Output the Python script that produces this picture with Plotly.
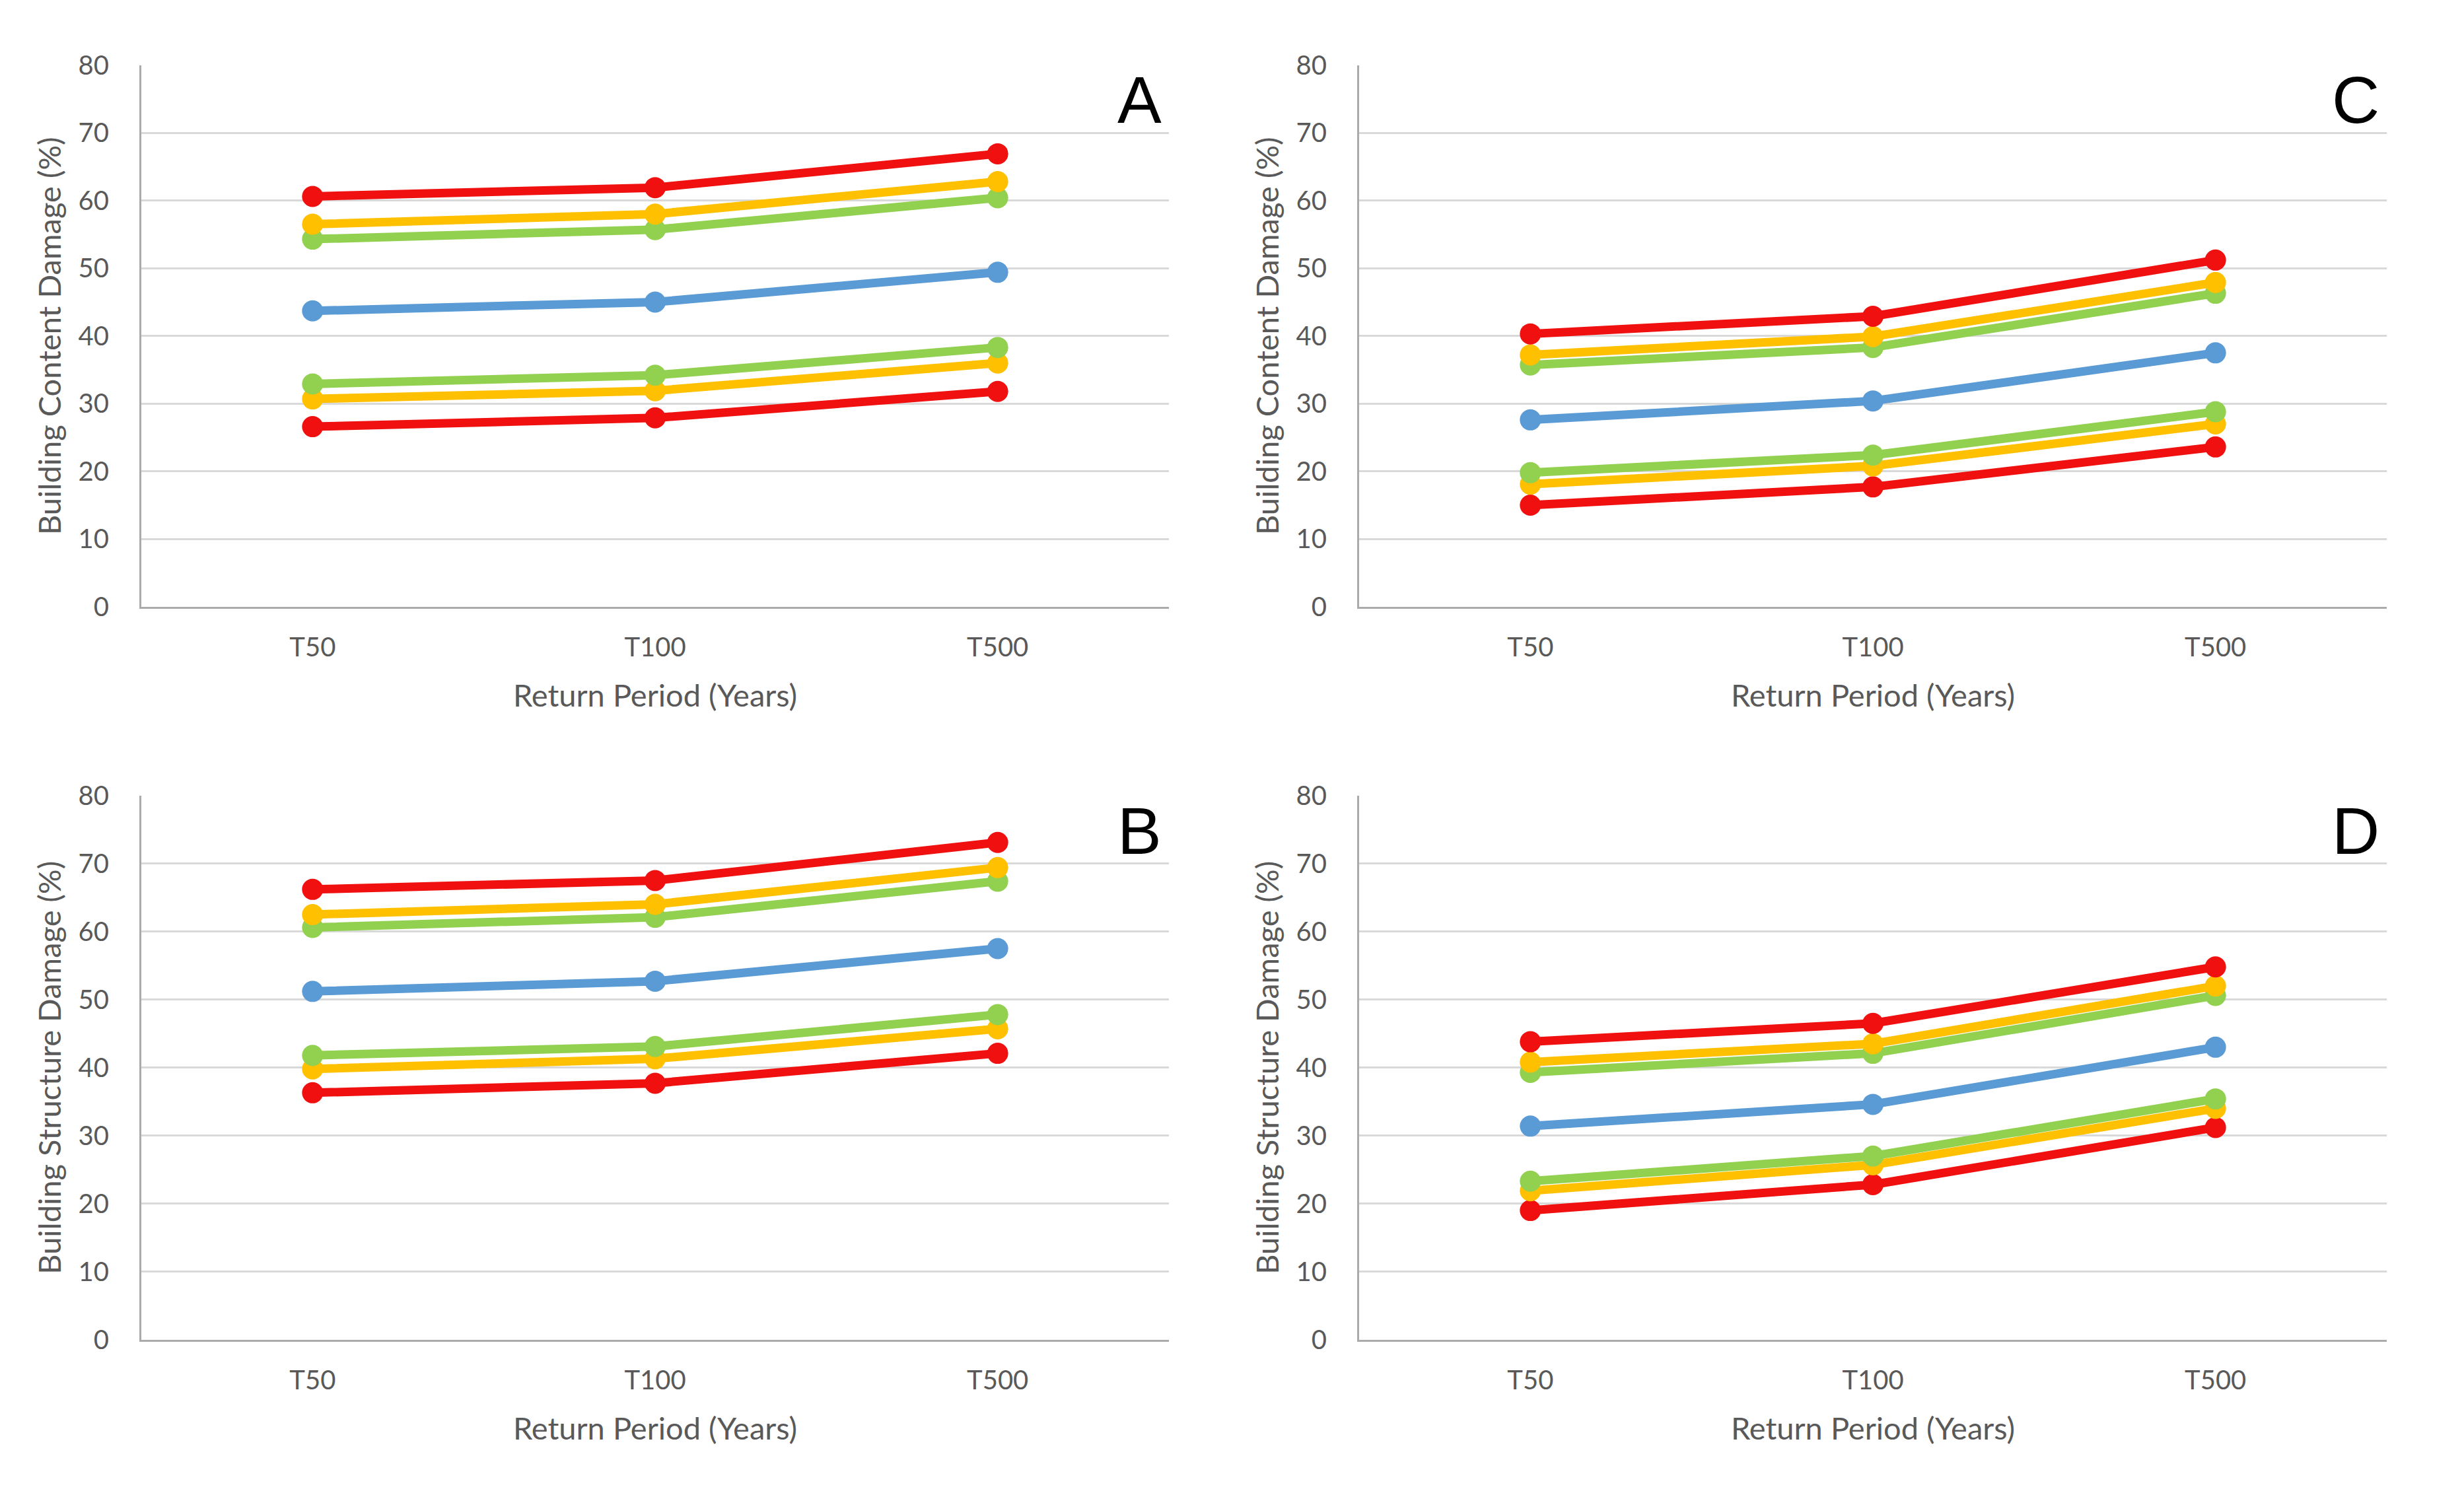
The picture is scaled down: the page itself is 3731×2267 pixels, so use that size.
import plotly.graph_objects as go

W, H = 3731, 2267

periods = ["T50", "T100", "T500"]
y_ticks = [0, 10, 20, 30, 40, 50, 60, 70, 80]

# Panel A - Building Content Damage (%)
A_red_hi = [60.6, 61.9, 66.9]
A_yellow_hi = [56.5, 58.0, 62.8]
A_green_hi = [54.3, 55.7, 60.4]
A_blue = [43.7, 45.0, 49.4]
A_green_lo = [32.9, 34.2, 38.3]
A_yellow_lo = [30.7, 31.9, 36.0]
A_red_lo = [26.6, 27.9, 31.8]

# Panel C - Building Content Damage (%)
C_red_hi = [40.3, 42.9, 51.2]
C_yellow_hi = [37.2, 39.9, 47.9]
C_green_hi = [35.7, 38.3, 46.3]
C_blue = [27.6, 30.4, 37.5]
C_green_lo = [19.8, 22.4, 28.8]
C_yellow_lo = [18.1, 20.8, 27.0]
C_red_lo = [15.0, 17.7, 23.6]

# Panel B - Building Structure Damage (%)
B_red_hi = [66.2, 67.5, 73.1]
B_yellow_hi = [62.5, 64.0, 69.4]
B_green_hi = [60.6, 62.1, 67.4]
B_blue = [51.2, 52.7, 57.5]
B_green_lo = [41.8, 43.1, 47.8]
B_yellow_lo = [39.8, 41.3, 45.7]
B_red_lo = [36.3, 37.7, 42.1]

# Panel D - Building Structure Damage (%)
D_red_hi = [43.8, 46.5, 54.8]
D_yellow_hi = [40.8, 43.5, 52.0]
D_green_hi = [39.3, 42.1, 50.6]
D_blue = [31.4, 34.6, 43.0]
D_green_lo = [23.3, 27.0, 35.4]
D_yellow_lo = [21.9, 25.7, 34.0]
D_red_lo = [19.0, 22.8, 31.2]

RED, YELLOW, GREEN, BLUE = "#F01010", "#FFC000", "#92D050", "#5B9BD5"

panels = [
    ("A", "x", "y", "Building Content Damage (%)",
     [("Lower red", A_red_lo, RED), ("Lower yellow", A_yellow_lo, YELLOW), ("Lower green", A_green_lo, GREEN),
      ("Blue", A_blue, BLUE), ("Upper green", A_green_hi, GREEN), ("Upper yellow", A_yellow_hi, YELLOW),
      ("Upper red", A_red_hi, RED)]),
    ("C", "x2", "y2", "Building Content Damage (%)",
     [("Lower red", C_red_lo, RED), ("Lower yellow", C_yellow_lo, YELLOW), ("Lower green", C_green_lo, GREEN),
      ("Blue", C_blue, BLUE), ("Upper green", C_green_hi, GREEN), ("Upper yellow", C_yellow_hi, YELLOW),
      ("Upper red", C_red_hi, RED)]),
    ("B", "x3", "y3", "Building Structure Damage (%)",
     [("Lower red", B_red_lo, RED), ("Lower yellow", B_yellow_lo, YELLOW), ("Lower green", B_green_lo, GREEN),
      ("Blue", B_blue, BLUE), ("Upper green", B_green_hi, GREEN), ("Upper yellow", B_yellow_hi, YELLOW),
      ("Upper red", B_red_hi, RED)]),
    ("D", "x4", "y4", "Building Structure Damage (%)",
     [("Lower red", D_red_lo, RED), ("Lower yellow", D_yellow_lo, YELLOW), ("Lower green", D_green_lo, GREEN),
      ("Blue", D_blue, BLUE), ("Upper green", D_green_hi, GREEN), ("Upper yellow", D_yellow_hi, YELLOW),
      ("Upper red", D_red_hi, RED)]),
]

fig = go.Figure()
for letter, xa, ya, ytitle, series in panels:
    for name, vals, col in series:
        fig.add_trace(go.Scatter(
            x=periods, y=vals, name=name, mode="lines+markers",
            xaxis=xa, yaxis=ya, showlegend=False,
            line=dict(color=col, width=13),
            marker=dict(color=col, size=32),
        ))

FONT = "Lato, 'Open Sans', sans-serif"
TXT = "#595959"

x_left = [206 / W, 1762 / W]
x_right = [2050 / W, 3606 / W]
y_top = [1 - 905 / H, 1 - 67 / H]
y_bot = [1 - 2039 / H, 1 - 1197 / H]

domains = {
    "A": (x_left, y_top), "C": (x_right, y_top),
    "B": (x_left, y_bot), "D": (x_right, y_bot),
}

layout = dict(
    width=W, height=H,
    margin=dict(l=0, r=0, t=0, b=0),
    paper_bgcolor="white", plot_bgcolor="white",
    font=dict(family=FONT, color=TXT),
    annotations=[],
)

for i, (letter, xa, ya, ytitle, series) in enumerate(panels):
    xd, yd = domains[letter]
    xkey = "xaxis" if i == 0 else f"xaxis{i+1}"
    ykey = "yaxis" if i == 0 else f"yaxis{i+1}"
    layout[xkey] = dict(
        domain=xd, anchor=ya, type="category",
        categoryorder="array", categoryarray=periods,
        range=[-0.5, 2.5], showgrid=False, zeroline=False,
        showline=True, linecolor="#ABABAB", linewidth=3,
        ticks="", tickfont=dict(size=40, color=TXT, family=FONT),
        ticklabelstandoff=24,
        title=dict(text="Return Period (Years)", font=dict(size=47, color=TXT, family=FONT), standoff=36),
    )
    layout[ykey] = dict(
        domain=yd, anchor=xa, range=[0, 80], tickvals=y_ticks,
        showgrid=True, gridcolor="#D9D9D9", gridwidth=3,
        zeroline=False, showline=True, linecolor="#ABABAB", linewidth=3,
        ticks="", tickfont=dict(size=40, color=TXT, family=FONT),
        ticklabelstandoff=38,
        title=dict(text=ytitle, font=dict(size=47, color=TXT, family=FONT), standoff=12),
    )
    layout["annotations"].append(dict(
        text=letter, xref="paper", yref="paper",
        x=xd[1] - 9 / W, y=yd[1] - 54 / H,
        xanchor="right", yanchor="middle", showarrow=False,
        font=dict(size=100, color="black", family="'Liberation Sans', Arial, sans-serif"),
    ))

fig.update_layout(**layout)
fig.write_html("out.html")
